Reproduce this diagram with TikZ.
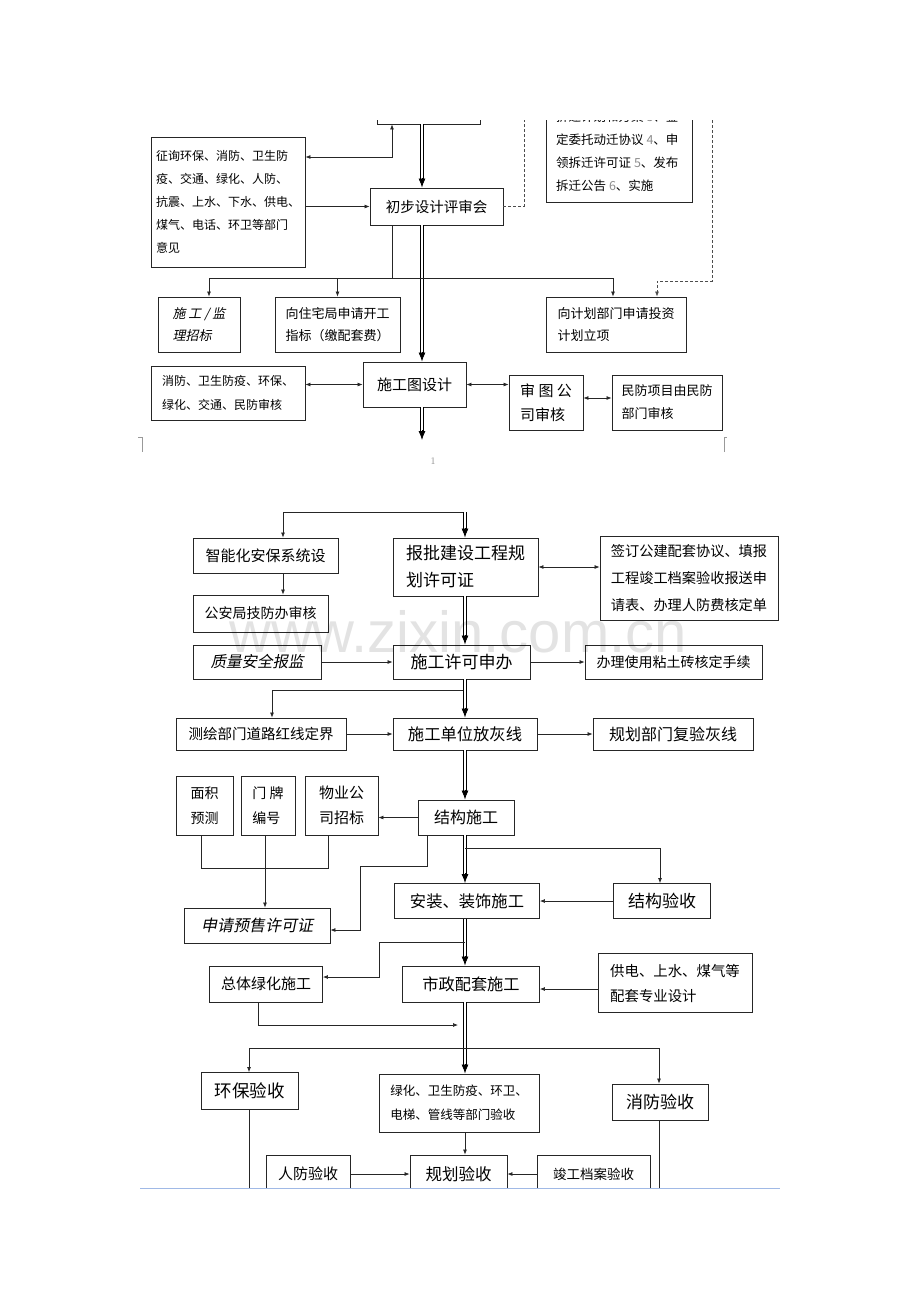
\documentclass[tikz,border=0pt]{standalone}
\usepackage{fontspec}
\usetikzlibrary{arrows.meta,calc}
\newfontfamily\cjk{Noto Sans CJK SC}
\newfontfamily\cjki{Noto Sans CJK SC}[FakeSlant=0.2]
\newfontfamily\latin{Liberation Sans}
\newcommand\myfs[2]{\fontsize{#1}{#2}\selectfont}
\newcommand\maintip[1]{\draw[mtip] ($(#1)+(0,-10)$) -- (#1);}
\begin{document}
\begin{tikzpicture}[x=1pt,y=-1pt,
 box/.style={draw=black!85, line width=0.9pt, fill=white, inner sep=0pt, align=left},
 arr/.style={-{Latex[length=5pt,width=4pt]}, line width=0.7pt, draw=black!85},
 darr/.style={{Latex[length=5pt,width=4pt]}-{Latex[length=5pt,width=4pt]}, line width=0.7pt, draw=black!85},
 thinl/.style={line width=0.7pt, draw=black!85},
 dbl/.style={double=white, double distance=1.6pt, line width=0.8pt, draw=black},
 dbla/.style={dbl, shorten >=7pt},
 mtip/.style={-{Latex[length=9pt,width=7pt]}, line width=0.8pt, draw=black},
 dsh/.style={dash pattern=on 3pt off 2pt, line width=0.7pt, draw=black!70},
]
\useasboundingbox (0,0) rectangle (920,1302);
\fill[white] (0,0) rectangle (920,1302);

% ---------- page 1 ----------
\node[box, minimum width=154pt, minimum height=130pt, font=\cjk\myfs{12}{23}] (zx) at (228,202) {征询环保、消防、卫生防\\疫、交通、绿化、人防、\\抗震、上水、下水、供电、\\煤气、电话、环卫等部门\\意见};
\node[box, minimum width=133pt, minimum height=37pt, font=\cjk\myfs{14.5}{18}] (cb) at (436.5,206.5) {初步设计评审会};
\node[box, minimum width=82pt, minimum height=55pt, font=\cjki\myfs{13}{22}] (sj) at (199,324.5) {施 工 / 监\\理招标};
\node[box, minimum width=125pt, minimum height=55pt, font=\cjk\myfs{13}{22}] (zz) at (337.5,324.5) {向住宅局申请开工\\指标（缴配套费）};
\node[box, minimum width=140pt, minimum height=55pt, font=\cjk\myfs{13}{22}] (jh) at (616,324.5) {向计划部门申请投资\\计划立项};
\node[box, minimum width=103pt, minimum height=45pt, font=\cjk\myfs{15}{18}] (sg) at (414.5,384.5) {施工图设计};
\node[box, minimum width=154pt, minimum height=54pt, font=\cjk\myfs{12}{24}] (xf) at (228,393) {消防、卫生防疫、环保、\\绿化、交通、民防审核};
\node[box, minimum width=74pt, minimum height=55pt, font=\cjk\myfs{15}{24}] (st) at (546,402.5) {审 图 公\\司审核};
\node[box, minimum width=110pt, minimum height=55pt, font=\cjk\myfs{13}{23}] (mf) at (667,402.5) {民防项目由民防\\部门审核};

\begin{scope}
\clip (0,120) rectangle (920,470);
\node[box, minimum width=103pt, minimum height=70pt] (top) at (428.5,89) {};
\node[box, minimum width=146pt, minimum height=150pt] (cq) at (619,127) {};
\node[anchor=north west, align=left, inner sep=0pt, font=\cjk\myfs{12.5}{23}] (cqt) at (556,111) {拆迁计划和方案 {\color{black!45}3}、鉴\\定委托动迁协议 {\color{black!45}4}、申\\领拆迁许可证 {\color{black!45}5}、发布\\拆迁公告 {\color{black!45}6}、实施};
\coordinate (d0) at (524,100);
\draw[dsh] (cb.east) -| (d0);
\coordinate (d1) at (712,100);
\coordinate (d2) at (657,281);
\draw[dsh, -{Latex[length=5pt,width=4pt]}] (d1) |- (d2) -- (jh.north -| d2);
\end{scope}

\coordinate (mx1) at (422,0);
\draw[dbla] (top.south -| mx1) -- (cb.north -| mx1);
\maintip{cb.north -| mx1}
\draw[dbla] (cb.south -| mx1) -- (sg.north -| mx1);
\maintip{sg.north -| mx1}
\coordinate (e1) at (422,440);
\draw[dbla] (sg.south -| mx1) -- (e1);
\maintip{e1}

\coordinate (c1) at (392,157);
\draw[darr] (zx.east |- c1) -| (top.south -| c1);
\draw[arr] (zx.east |- cb.west) -- (cb.west);

\coordinate (b1) at (392,278);
\coordinate (b0) at (209,278);
\coordinate (b3) at (613,278);
\draw[thinl] (cb.south -| b1) -- (b1);
\draw[thinl] (b0) -- (b3);
\draw[arr] (b0) -- (sj.north -| b0);
\draw[arr] (zz.north |- b1) -- (zz.north);
\draw[arr] (b3) -- (jh.north -| b3);

\draw[darr] (xf.east |- sg.west) -- (sg.west);
\draw[darr] (sg.east) -- (st.west |- sg.east);
\coordinate (r2) at (0,398);
\draw[darr] (st.east |- r2) -- (mf.west |- r2);

\draw[black!40, line width=0.6pt] (138,437) -- (142,437) -- (142,452);
\draw[black!40, line width=0.6pt] (724,452) -- (724,437) -- (727,437);
\node[text=black!45, font=\myfs{10}{12}] (pn) at (433,461) {1};

% ---------- page 2 ----------
\node[box, minimum width=145pt, minimum height=35pt, font=\cjk\myfs{15}{18}] (zn) at (265.5,555.5) {智能化安保系统设};
\node[box, minimum width=135pt, minimum height=37pt, font=\cjk\myfs{14}{18}] (ga) at (260.5,613.5) {公安局技防办审核};
\node[box, minimum width=145pt, minimum height=58pt, font=\cjk\myfs{17}{27}] (bb) at (465.5,567) {报批建设工程规\\划许可证};
\node[box, minimum width=178pt, minimum height=84pt, font=\cjk\myfs{14.2}{27}] (qd) at (689,578) {签订公建配套协议、填报\\工程竣工档案验收报送申\\请表、办理人防费核定单};
\node[box, minimum width=128pt, minimum height=34pt, font=\cjki\myfs{15.5}{18}] (zl) at (257,662) {质量安全报监};
\node[box, minimum width=137pt, minimum height=34pt, font=\cjk\myfs{17}{20}] (sx) at (461.5,662) {施工许可申办};
\node[box, minimum width=177pt, minimum height=34pt, font=\cjk\myfs{14}{18}] (bl) at (673.5,662) {办理使用粘土砖核定手续};
\node[box, minimum width=170pt, minimum height=32pt, font=\cjk\myfs{14.5}{18}] (ch) at (261,734) {测绘部门道路红线定界};
\node[box, minimum width=144pt, minimum height=32pt, font=\cjk\myfs{16.3}{20}] (fh) at (465,734) {施工单位放灰线};
\node[box, minimum width=160pt, minimum height=32pt, font=\cjk\myfs{16}{20}] (gf) at (673,734) {规划部门复验灰线};
\node[box, minimum width=57pt, minimum height=59pt, font=\cjk\myfs{14}{25}] (mj) at (204.5,805.5) {面积\\预测};
\node[box, minimum width=54pt, minimum height=59pt, font=\cjk\myfs{14}{25}] (mp) at (268,805.5) {门 牌\\编号};
\node[box, minimum width=73pt, minimum height=59pt, font=\cjk\myfs{15}{25}] (wy) at (341.5,805.5) {物业公\\司招标};
\node[box, minimum width=96pt, minimum height=35pt, font=\cjk\myfs{16}{20}] (jg) at (466,817.5) {结构施工};
\node[box, minimum width=145pt, minimum height=35pt, font=\cjk\myfs{16.3}{20}] (az) at (467,901) {安装、装饰施工};
\node[box, minimum width=97pt, minimum height=35pt, font=\cjk\myfs{17}{20}] (jy) at (662,901) {结构验收};
\node[box, minimum width=146pt, minimum height=35pt, font=\cjki\myfs{16}{20}] (sq) at (257,925.5) {申请预售许可证};
\node[box, minimum width=113pt, minimum height=36pt, font=\cjk\myfs{15}{18}] (zt) at (266,984) {总体绿化施工};
\node[box, minimum width=137pt, minimum height=36pt, font=\cjk\myfs{16.2}{20}] (sz) at (471,984) {市政配套施工};
\node[box, minimum width=154pt, minimum height=59pt, font=\cjk\myfs{14.4}{25}] (gd) at (675,983) {供电、上水、煤气等\\配套专业设计};
\node[box, minimum width=97pt, minimum height=37pt, font=\cjk\myfs{17.5}{20}] (hb) at (249.5,1091) {环保验收};
\node[box, minimum width=160pt, minimum height=58pt, font=\cjk\myfs{12.5}{24}] (lh) at (459,1103) {绿化、卫生防疫、环卫、\\电梯、管线等部门验收};
\node[box, minimum width=96pt, minimum height=36pt, font=\cjk\myfs{17}{20}] (xfy) at (660,1102) {消防验收};
\node[box, minimum width=84pt, minimum height=38pt, font=\cjk\myfs{15}{18}] (rf) at (308,1174) {人防验收};
\node[box, minimum width=97pt, minimum height=38pt, font=\cjk\myfs{16.5}{20}] (gh) at (458.5,1174) {规划验收};
\node[box, minimum width=113pt, minimum height=38pt, font=\cjk\myfs{13.5}{18}] (jga) at (593.5,1174) {竣工档案验收};

\coordinate (mx2) at (465,0);
\coordinate (t1) at (465,512);
\coordinate (t0) at (283,512);
\draw[thinl] (t0) -- (t1);
\draw[arr] (t0) -- (zn.north -| t0);
\draw[dbla] (t1) -- (bb.north -| mx2);
\maintip{bb.north -| mx2}
\draw[arr] (zn.south -| t0) -- (ga.north -| t0);
\draw[darr] (bb.east) -- (qd.west |- bb.east);
\draw[dbla] (bb.south -| mx2) -- (sx.north -| mx2);
\maintip{sx.north -| mx2}
\draw[arr] (zl.east) -- (sx.west);
\draw[arr] (sx.east) -- (bl.west);
\coordinate (f1) at (465,690);
\coordinate (f0) at (272,690);
\draw[thinl] (f1) -- (f0);
\draw[arr] (f0) -- (ch.north -| f0);
\draw[dbla] (sx.south -| mx2) -- (fh.north -| mx2);
\maintip{fh.north -| mx2}
\draw[arr] (ch.east) -- (fh.west);
\draw[arr] (fh.east) -- (gf.west);
\draw[dbla] (fh.south -| mx2) -- (jg.north -| mx2);
\maintip{jg.north -| mx2}
\draw[arr] (jg.west) -- (wy.east |- jg.west);
\coordinate (u0) at (201,868);
\coordinate (u2) at (328,868);
\draw[thinl] (mj.south -| u0) -- (u0) -- (u2) -- (wy.south -| u2);
\coordinate (u1) at (265,0);
\draw[arr] (mp.south -| u1) -- (sq.north -| u1);
\coordinate (g1) at (427,866);
\coordinate (g2) at (360,866);
\coordinate (g3) at (360,930);
\draw[arr] (jg.south -| g1) -- (g1) -- (g2) -- (g3) -- (sq.east |- g3);
\draw[dbla] (jg.south -| mx2) -- (az.north -| mx2);
\maintip{az.north -| mx2}
\coordinate (h1) at (465,848);
\coordinate (h2) at (660,848);
\draw[thinl] (h1) -- (h2);
\draw[arr] (h2) -- (jy.north -| h2);
\draw[arr] (jy.west) -- (az.east |- jy.west);
\draw[dbla] (az.south -| mx2) -- (sz.north -| mx2);
\maintip{sz.north -| mx2}
\coordinate (k1) at (465,942);
\coordinate (k2) at (379,942);
\coordinate (k3) at (379,977);
\draw[arr] (k1) -- (k2) -- (k3) -- (zt.east |- k3);
\coordinate (q1) at (0,989);
\draw[arr] (gd.west |- q1) -- (sz.east |- q1);
\coordinate (l1) at (258,1025);
\coordinate (l2) at (458,1025);
\draw[arr] (zt.south -| l1) -- (l1) -- (l2);
\draw[dbla] (sz.south -| mx2) -- (lh.north -| mx2);
\maintip{lh.north -| mx2}
\coordinate (n0) at (249,1048);
\coordinate (n2) at (659,1048);
\draw[thinl] (n0) -- (n2);
\draw[arr] (n0) -- (hb.north -| n0);
\draw[arr] (n2) -- (xfy.north -| n2);
\draw[arr] (lh.south -| mx2) -- (gh.north -| mx2);
\draw[arr] (rf.east) -- (gh.west);
\draw[arr] (jga.west) -- (gh.east);
\coordinate (v0) at (249,1195);
\coordinate (v2) at (659,1195);
\draw[thinl] (hb.south -| v0) -- (v0);
\draw[thinl] (xfy.south -| v2) -- (v2);

\fill[white] (0,1189) rectangle (920,1302);
\draw[color={rgb,255:red,160;green,185;blue,230}, line width=0.9pt] (140,1188) -- (780,1188);

\node[text=black, opacity=0.11, font=\latin\myfs{58}{60}] (wm) at (458,632) {www.zixin.com.cn};
\end{tikzpicture}
\end{document}
